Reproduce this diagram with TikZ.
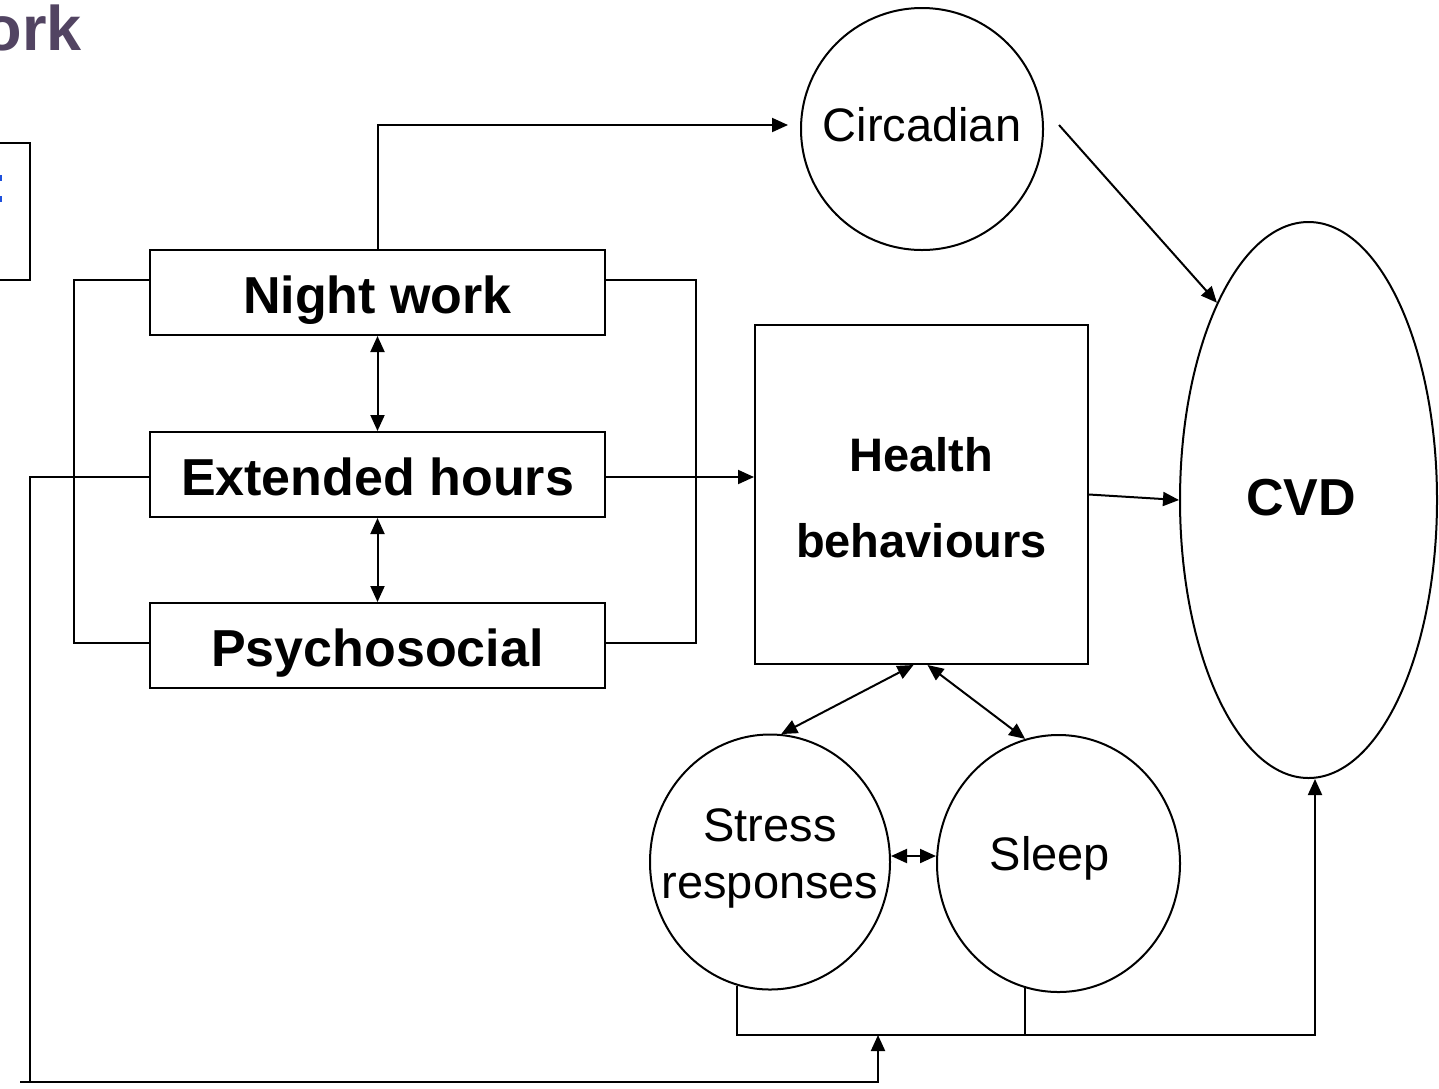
\documentclass[tikz,border=0pt]{standalone}
\usepackage{fontspec}
\setmainfont{Liberation Sans}
\usetikzlibrary{arrows.meta,shapes.geometric,calc}
\definecolor{titlecol}{RGB}{82,68,98}
\definecolor{bluetxt}{RGB}{30,80,220}
\tikzset{
  line/.style={line width=2pt, black},
  arr/.style={line, -{Triangle[length=16pt,width=14pt]}},
  darr/.style={line, {Triangle[length=16pt,width=14pt]}-{Triangle[length=16pt,width=14pt]}},
  factor/.style={draw, line width=2pt, rectangle, minimum width=455pt, minimum height=85pt, inner sep=0pt,
    text height=42pt, text depth=0pt, font=\fontsize{52}{60}\selectfont\bfseries},
  bubble/.style={draw, line width=2pt, ellipse, inner sep=0pt},
  btext/.style={inner sep=0pt, align=center, font=\fontsize{47}{57}\selectfont},
}
\begin{document}
\begin{tikzpicture}[x=1pt,y=-1pt]
\useasboundingbox (0,0) rectangle (1439,1088);
\clip (0,0) rectangle (1439,1088);
\fill[white] (0,0) rectangle (1439,1088);

% title fragment
\node[anchor=base east, inner sep=0pt, text=titlecol, font=\fontsize{63}{70}\selectfont\bfseries] (title) at (82,50) {work};

% partial box at left edge
\draw[line] (-5,143) -- (30,143) -- (30,280) -- (-5,280);
\fill[bluetxt] (-1,175) rectangle (2.2,181);
\fill[bluetxt] (-1,196) rectangle (2.2,202);

% factor boxes
\node[factor] (nw) at (377.5,292.5) {Night work};
\node[factor] (eh) at (377.5,474.5) {Extended hours};
\node[factor] (ps) at (377.5,645.5) {Psychosocial};

% health behaviours box
\node[draw, line width=2pt, rectangle, minimum width=333pt, minimum height=339pt, inner sep=0pt] (hb) at (921.5,494.5) {};
\node[align=center, inner sep=0pt, font=\fontsize{47}{86}\selectfont\bfseries] (hbt) at (921.5,498) {Health\\behaviours};

% circles / ellipses
\node[bubble, minimum width=242pt, minimum height=242pt] (circ) at (922,129) {};
\node[btext] (circt) at (922,125) {Circadian};
\node[bubble, minimum width=257pt, minimum height=556pt] (cvd) at (1308.5,500) {};
\node[inner sep=0pt, font=\fontsize{52}{60}\selectfont\bfseries] (cvdt) at (1301,498) {CVD};
\node[bubble, minimum width=240pt, minimum height=255pt] (st) at (770,862) {};
\node[btext] (stt) at (770,858) {Stress\\responses};
\node[bubble, minimum width=243pt, minimum height=257pt] (sl) at (1058.5,863.5) {};
\node[btext] (slt) at (1050,858) {Sleep};

% brackets
\draw[line] ([yshift=12.5pt]nw.west) -- ++(-75,0) |- ([yshift=2.5pt]ps.west);
\draw[line] ([yshift=12.5pt]nw.east) -- ++(90,0) |- ([yshift=2.5pt]ps.east);

% vertical double arrows
\draw[darr] (nw.south) -- (eh.north);
\draw[darr] (eh.south) -- (ps.north);

% night work -> circadian
\draw[arr] (nw.north) |- ([xshift=-12pt,yshift=4pt]circ.west);
% circadian -> CVD
\draw[arr] ($(circ.east)+(15,-4)$) -- (cvd.north west);
% extended hours -> health behaviours
\draw[arr] ([yshift=-2.5pt]eh.east) -- ([yshift=-2.5pt]eh.east -| hb.west);
% health behaviours -> CVD
\draw[arr] (hb.east) -- (cvd.west);

% health <-> stress, sleep
\draw[darr] ([xshift=-8pt]hb.south) -- (st.85);
\draw[darr] ([xshift=6pt]hb.south) -- (sl.105);
% stress <-> sleep
\draw[darr] ([yshift=6pt]st.east) -- ([yshift=6pt]st.east -| sl.west);

% bottom bus to CVD
\coordinate (busR) at (1315,1035);
\draw[arr] (st.255) |- (busR) -- (cvd.south -| busR);
\draw[line] (sl.255) -- (sl.255 |- busR);

% feedback from extended hours
\coordinate (fbL) at (30,1082);
\coordinate (fbR) at (878,1082);
\coordinate (fbE) at (20,1082);
\draw[line] ([yshift=-2.5pt]eh.west) -| (fbL);
\draw[arr] (fbE) -- (fbR) -- (fbR |- busR);
\end{tikzpicture}
\end{document}
